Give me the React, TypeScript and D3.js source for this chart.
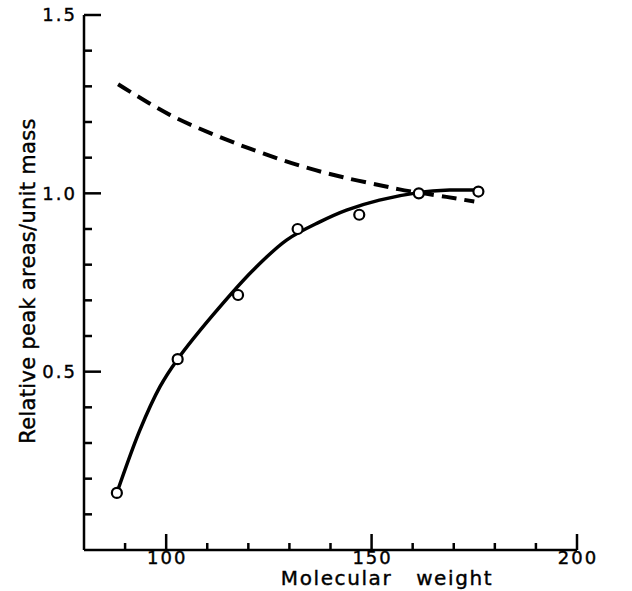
import React from 'react';
import * as d3 from 'd3';

// measured points (molecular weight, relative peak area / unit mass)
const pointMW = [88, 102.8, 117.5, 132, 147, 161.5, 176];
const pointArea = [0.16, 0.535, 0.715, 0.9, 0.94, 1.0, 1.005];

// smooth fitted curve
const curveMW = [88, 93.6, 98.5, 102.8, 111.4, 121.2, 129.3, 137.4, 143.9, 151.9, 161.4, 169, 176];
const curveArea = [0.16, 0.336, 0.458, 0.535, 0.659, 0.785, 0.869, 0.92, 0.953, 0.981, 1.002, 1.009, 1.009];

// dashed line
const dashMW = [88.3, 100.9, 113.9, 123.6, 133.3, 143.1, 153.2, 156.8, 168.2, 175];
const dashArea = [1.306, 1.22, 1.154, 1.112, 1.075, 1.045, 1.02, 1.011, 0.99, 0.977];

const xTicks = [90, 100, 110, 120, 130, 140, 150, 160, 170, 180, 190, 200];
const xLabels = [100, 150, 200];
const yTicks = [0.1, 0.2, 0.3, 0.4, 0.5, 0.6, 0.7, 0.8, 0.9, 1.0, 1.1, 1.2, 1.3, 1.4, 1.5];
const yLabels = ['0.5', '1.0', '1.5'];

const FONT = '"DejaVu Sans", sans-serif';

const App = () => {
  const x = d3.scaleLinear().domain([80, 200]).range([84, 577]);
  const y = d3.scaleLinear().domain([0, 1.5]).range([550, 15]);

  const line = d3
    .line<[number, number]>()
    .x((d) => x(d[0]))
    .y((d) => y(d[1]))
    .curve(d3.curveCatmullRom.alpha(0.5));

  const solid = line(curveMW.map((m, i) => [m, curveArea[i]]));
  const dashed = line(dashMW.map((m, i) => [m, dashArea[i]]));

  const isMajorY = (v: number) => yLabels.includes(v.toFixed(1));

  return (
    <svg
      width={632}
      height={591}
      style={{ position: 'absolute', left: 0, top: 0, background: '#fff' }}
    >
      {/* axes */}
      <g stroke="#000" strokeWidth={2.5} fill="none">
        <line x1={x(80)} y1={y(1.5)} x2={x(80)} y2={y(0)} />
        <line x1={x(80)} y1={y(0)} x2={x(200)} y2={y(0)} />
        {xTicks.map((t) => (
          <line
            key={'xt' + t}
            x1={x(t)}
            x2={x(t)}
            y1={y(0)}
            y2={y(0) - (xLabels.includes(t) ? 16 : 7)}
          />
        ))}
        {yTicks.map((t) => (
          <line
            key={'yt' + t}
            x1={x(80)}
            x2={x(80) + (isMajorY(t) ? 17 : 8)}
            y1={y(t)}
            y2={y(t)}
          />
        ))}
      </g>

      {/* tick labels */}
      <g fontFamily={FONT} fontSize={18} fill="#000" stroke="#000" strokeWidth={0.4} letterSpacing={2}>
        {xLabels.map((t) => (
          <text key={'xl' + t} x={x(t) + 1} y={564} textAnchor="middle">
            {t}
          </text>
        ))}
        {yLabels.map((t) => (
          <text key={'yl' + t} x={77} y={y(+t)} dy="0.36em" textAnchor="end">
            {t}
          </text>
        ))}
      </g>

      {/* axis titles */}
      <text
        x={387}
        y={585}
        textAnchor="middle"
        fontFamily={FONT}
        fontSize={20}
        letterSpacing={1.6}
        stroke="#000"
        strokeWidth={0.4}
        style={{ whiteSpace: 'pre' }}
      >
        {'Molecular   weight'}
      </text>
      <text
        transform="translate(35,281) rotate(-90)"
        textAnchor="middle"
        fontFamily={FONT}
        fontSize={21}
        letterSpacing={0.3}
        stroke="#000"
        strokeWidth={0.4}
      >
        Relative peak areas/unit mass
      </text>

      {/* curves */}
      <path d={dashed ?? ''} fill="none" stroke="#000" strokeWidth={4} strokeDasharray="15 8" />
      <path d={solid ?? ''} fill="none" stroke="#000" strokeWidth={3.5} />

      {/* data points */}
      {pointMW.map((m, i) => (
        <circle
          key={'p' + i}
          cx={x(m)}
          cy={y(pointArea[i])}
          r={5}
          fill="#fff"
          stroke="#000"
          strokeWidth={2.2}
        />
      ))}
    </svg>
  );
};

export default App;
